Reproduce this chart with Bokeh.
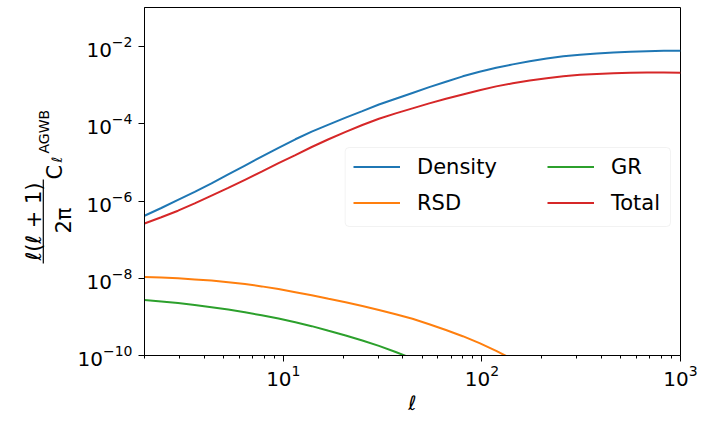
import numpy as np
from bokeh.plotting import figure
from bokeh.layouts import row
from bokeh.models import FixedTicker, Legend, LegendItem, BoxAnnotation, Range1d
from bokeh.embed import file_html
from bokeh.resources import INLINE
from bokeh.core.properties import value

# ---- data ----
ell = [2.00, 2.43, 2.95, 3.58, 4.35, 5.28, 6.41, 7.78, 9.46, 11.5, 13.9, 16.9, 20.6, 25.0,
       30.3, 36.8, 44.7, 54.3, 65.9, 80.1, 97.3, 118, 143, 174, 212, 257, 312, 379, 460,
       559, 678, 824, 1000]
# log10 of l(l+1)C_l/2pi
density_log = [-6.38, -6.18, -5.97, -5.76, -5.54, -5.31, -5.08, -4.85, -4.62, -4.40, -4.20,
               -4.02, -3.84, -3.67, -3.50, -3.35, -3.20, -3.05, -2.91, -2.77, -2.65, -2.55,
               -2.46, -2.38, -2.31, -2.25, -2.21, -2.18, -2.15, -2.13, -2.12, -2.11, -2.11]
total_log = [-6.58, -6.42, -6.25, -6.06, -5.86, -5.66, -5.45, -5.24, -5.02, -4.81, -4.60,
             -4.40, -4.21, -4.03, -3.87, -3.73, -3.60, -3.47, -3.35, -3.24, -3.13, -3.03,
             -2.95, -2.88, -2.82, -2.77, -2.73, -2.71, -2.69, -2.68, -2.67, -2.67, -2.68]
rsd_log = [-7.97, -7.98, -8.00, -8.03, -8.06, -8.10, -8.15, -8.21, -8.28, -8.36, -8.44,
           -8.53, -8.62, -8.72, -8.82, -8.93, -9.05, -9.19, -9.34, -9.50, -9.68, -9.88,
           -10.10, -10.34, -10.60]
gr_log = [-8.56, -8.60, -8.64, -8.69, -8.75, -8.81, -8.88, -8.96, -9.04, -9.14, -9.24,
          -9.36, -9.48, -9.61, -9.75, -9.91, -10.08, -10.26, -10.45]

series_names = ["Density", "RSD", "GR", "Total"]
colors = ["#1f77b4", "#ff7f0e", "#2ca02c", "#d62728"]
x_major = [10, 100, 1000]
x_minor = [2, 3, 4, 5, 6, 7, 8, 9, 20, 30, 40, 50, 60, 70, 80, 90,
           200, 300, 400, 500, 600, 700, 800, 900]
y_major = [1e-10, 1e-8, 1e-6, 1e-4, 1e-2]

density = [10 ** v for v in density_log]
total = [10 ** v for v in total_log]
rsd = [10 ** v for v in rsd_log]
gr = [10 ** v for v in gr_log]

XMIN, XMAX = 2, 1000
YMIN, YMAX = 1e-10, 0.103

W, H = 704, 423
LW = 74                     # width of the strip holding the y-axis label
FL, FR, FT, FB = 143, 680, 7, 355

# ---------------- main plot ----------------
p = figure(width=W - LW, height=H, x_axis_type="log", y_axis_type="log",
           x_range=Range1d(XMIN, XMAX), y_range=Range1d(YMIN, YMAX),
           output_backend="svg", toolbar_location=None,
           min_border_left=FL - LW, min_border_right=W - FR,
           min_border_top=FT, min_border_bottom=H - FB)
p.background_fill_color = "white"
p.border_fill_color = "white"
p.outline_line_color = "black"
p.outline_line_width = 1
p.xgrid.visible = False
p.ygrid.visible = False

p.xaxis.ticker = FixedTicker(ticks=x_major, minor_ticks=x_minor)
p.yaxis.ticker = FixedTicker(ticks=y_major, minor_ticks=[])
for ax in (p.xaxis[0], p.yaxis[0]):
    ax.axis_line_color = "black"
    ax.major_tick_line_color = "black"
    ax.minor_tick_line_color = "black"
    ax.major_tick_in = 0
    ax.major_tick_out = 6
    ax.minor_tick_in = 0
    ax.minor_tick_out = 3
    ax.major_label_text_font = "DejaVu Sans"
    ax.major_label_text_font_size = "20px"
    ax.major_label_text_color = "black"
p.xaxis.major_label_standoff = 3
p.yaxis.major_label_standoff = 6
p.xaxis.axis_label = "ℓ"
p.xaxis.axis_label_text_font = "DejaVu Sans"
p.xaxis.axis_label_text_font_size = "20px"
p.xaxis.axis_label_text_font_style = "normal"
p.xaxis.axis_label_text_color = "black"
p.xaxis.axis_label_standoff = 2

r_d = p.line(ell, density, line_color=colors[0], line_width=2)
r_r = p.line(ell[:len(rsd)], rsd, line_color=colors[1], line_width=2)
r_g = p.line(ell[:len(gr)], gr, line_color=colors[2], line_width=2)
r_t = p.line(ell, total, line_color=colors[3], line_width=2)

# canvas pixel -> data coordinates (for the legend frame)
LX0, LX1 = np.log10(XMIN), np.log10(XMAX)
LYB, LYT = np.log10(YMIN), np.log10(YMAX)
def dx(px):
    return float(10 ** (LX0 + (px - FL) / (FR - FL) * (LX1 - LX0)))
def dy(py):
    return float(10 ** (LYB + (FB - py) / (FB - FT) * (LYT - LYB)))

p.add_layout(BoxAnnotation(left=dx(344), right=dx(670), top=dy(147), bottom=dy(226),
                           fill_color="white", fill_alpha=0.8,
                           line_color="#d5d5d5", line_width=1, border_radius=4,
                           level="overlay"))

leg_common = dict(background_fill_alpha=0, border_line_alpha=0, padding=0, margin=0,
                  spacing=11, glyph_width=47, glyph_height=25, label_height=25,
                  label_standoff=17, label_text_font="DejaVu Sans",
                  label_text_font_size="21px", label_text_color="black")
leg1 = Legend(items=[LegendItem(label=series_names[0], renderers=[r_d]),
                     LegendItem(label=series_names[1], renderers=[r_r])],
              location=(352 - FL, 139.8), **leg_common)
leg2 = Legend(items=[LegendItem(label=series_names[2], renderers=[r_g]),
                     LegendItem(label=series_names[3], renderers=[r_t])],
              location=(546 - FL, 139.8), **leg_common)
p.add_layout(leg1)
p.add_layout(leg2)

# ---------------- y-axis label strip ----------------
# its frame is aligned with the main frame (canvas rows FT..FB), so use canvas pixels
q = figure(width=LW, height=H, x_range=Range1d(0, LW), y_range=Range1d(FB, FT),
           output_backend="svg", toolbar_location=None, title=None,
           x_axis_location=None, y_axis_location=None,
           min_border_left=0, min_border_right=0, min_border_top=FT,
           min_border_bottom=H - FB)
q.outline_line_color = None
q.xgrid.visible = False
q.ygrid.visible = False
q.background_fill_color = "white"
q.border_fill_color = "white"

ang = np.pi / 2
def ylab(text, bx, y, size, align):
    q.text(x=[bx], y=[y], text=[text], angle=ang, text_align=align,
           text_baseline="alphabetic", text_font=value("DejaVu Sans"),
           text_font_size=size, text_color="black")

ylab("ℓ(ℓ + 1)", 33.5, 221, "21px", "center")
ylab("2π", 63, 220, "21px", "center")
ylab("C", 54, 179, "21px", "left")
ylab("AGWB", 43.5, 153, "14px", "left")
ylab("ℓ", 56.5, 162, "14px", "left")
q.segment(x0=[42.8], y0=[179], x1=[42.8], y1=[263], line_color="black", line_width=1.2)

layout = row(q, p)
open("out.html", "w").write(file_html(layout, INLINE))
